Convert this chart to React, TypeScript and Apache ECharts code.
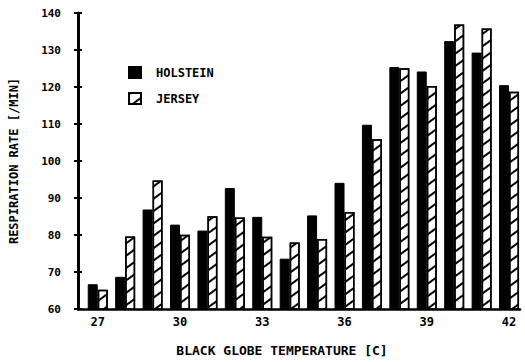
import React, { useEffect, useRef } from "react";
import * as echarts from "echarts";

const temps = [27, 28, 29, 30, 31, 32, 33, 34, 35, 36, 37, 38, 39, 40, 41, 42];
const holstein = [66.7, 68.7, 86.9, 82.8, 81.2, 92.7, 84.9, 73.6, 85.3, 94.1, 109.8, 125.4, 124.2, 132.4, 129.3, 120.5];
const jersey = [65.2, 79.6, 94.7, 80.1, 85.1, 84.7, 79.5, 78.0, 78.9, 86.2, 105.9, 125.1, 120.3, 136.9, 135.8, 118.7];
const xTickLabels = [27, 30, 33, 36, 39, 42];

const FONT = "DejaVu Sans Mono";

export default function App() {
  const ref = useRef<HTMLDivElement>(null);
  useEffect(() => {
    if (!ref.current) return;
    const chart = echarts.init(ref.current, null, { renderer: "svg" });
    chart.setOption({
      animation: false,
      backgroundColor: "#fff",
      grid: { left: 72, right: 5, top: 13, bottom: 44 },
      legend: {
        orient: "vertical",
        left: 123,
        top: 61,
        icon: "rect",
        itemWidth: 12,
        itemHeight: 11,
        itemGap: 13,
        textStyle: { fontFamily: FONT, fontWeight: "bold", fontSize: 12, color: "#000", padding: [0, 0, 0, 10] },
        data: ["HOLSTEIN", "JERSEY"],
      },
      xAxis: {
        type: "value",
        min: 26.28,
        max: 42.4,
        name: "BLACK GLOBE TEMPERATURE [C]",
        nameLocation: "middle",
        nameGap: 35,
        nameTextStyle: { fontFamily: FONT, fontWeight: "bold", fontSize: 13, color: "#000", padding: [0, 34, 0, 0] },
        axisLine: { show: true, lineStyle: { color: "#000", width: 2.5 } },
        axisTick: { show: false },
        splitLine: { show: false },
        axisLabel: {
          customValues: xTickLabels,
          margin: 7,
          fontFamily: FONT,
          fontWeight: "bold",
          fontSize: 12,
          color: "#000",
        },
      },
      yAxis: [
        {
          type: "value",
          min: 60,
          max: 140,
          interval: 10,
          name: "RESPIRATION RATE [/MIN]",
          nameLocation: "middle",
          nameGap: 58,
          nameRotate: 90,
          nameTextStyle: { fontFamily: FONT, fontWeight: "bold", fontSize: 12, color: "#000" },
          axisLine: { show: true, lineStyle: { color: "#000", width: 3 } },
          axisTick: { show: true, length: 4, lineStyle: { color: "#000", width: 2 } },
          splitLine: { show: false },
          axisLabel: { margin: 17, fontFamily: FONT, fontWeight: "bold", fontSize: 11, color: "#000" },
        },
        {
          type: "value",
          min: 60,
          max: 140,
          interval: 10,
          position: "left",
          axisLine: { show: false },
          axisTick: { show: true, inside: true, length: 4, lineStyle: { color: "#000", width: 2 } },
          axisLabel: { show: false },
          splitLine: { show: false },
        },
      ],
      series: [
        {
          name: "HOLSTEIN",
          type: "bar",
          barWidth: 10,
          barGap: "0%",
          itemStyle: { color: "#000", borderColor: "#000", borderWidth: 1 },
          data: temps.map((t, i) => [t, holstein[i]]),
        },
        {
          name: "JERSEY",
          type: "bar",
          barWidth: 10,
          barGap: "0%",
          itemStyle: {
            color: "#fff",
            borderColor: "#000",
            borderWidth: 1.5,
            decal: {
              symbol: "rect",
              symbolSize: 1,
              color: "#000",
              dashArrayX: [1, 0],
              dashArrayY: [1.6, 8],
              rotation: -Math.PI / 5,
            },
          },
          data: temps.map((t, i) => [t, jersey[i]]),
        },
      ],
    });
    return () => chart.dispose();
  }, []);
  return <div ref={ref} style={{ position: "absolute", left: 0, top: 0, width: 525, height: 362 }} />;
}
